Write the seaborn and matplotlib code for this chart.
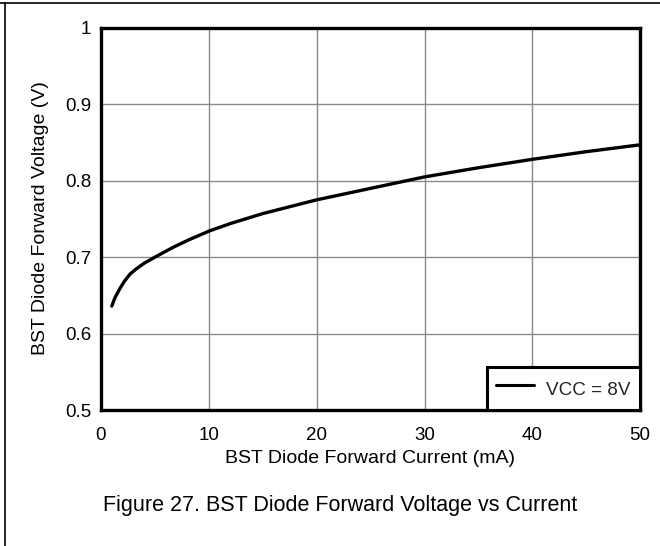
import matplotlib
matplotlib.use("Agg")
import matplotlib.pyplot as plt
import seaborn as sns
import pandas as pd
from matplotlib.lines import Line2D

# Data
current_ma = [1, 1.3, 1.75, 2.2, 2.7, 3.3, 4, 5, 6.7, 8.2, 10, 12, 15, 20, 25, 30, 35, 40, 45, 50]
forward_v = [0.636, 0.647, 0.659, 0.669, 0.678, 0.685, 0.692, 0.700, 0.713, 0.723,
             0.734, 0.744, 0.757, 0.775, 0.790, 0.805, 0.817, 0.828, 0.838, 0.847]
series_label = "VCC = 8V"
x_ticks = [0, 10, 20, 30, 40, 50]
y_ticks = [0.5, 0.6, 0.7, 0.8, 0.9, 1.0]
y_tick_labels = ["0.5", "0.6", "0.7", "0.8", "0.9", "1"]

df = pd.DataFrame({"I": current_ma, "V": forward_v, "s": series_label})

sns.set_theme(style="white")
plt.rcParams["font.family"] = ["Liberation Sans", "DejaVu Sans"]

fig = plt.figure(figsize=(6.6, 5.46), dpi=100)
ax = fig.add_axes([0.153, 0.249, 0.817, 0.700])

sns.lineplot(data=df, x="I", y="V", color="black", linewidth=2.4, ax=ax, legend=False)

ax.set_xlim(0, 50)
ax.set_ylim(0.5, 1.0)
ax.set_xticks(x_ticks)
ax.set_yticks(y_ticks)
ax.set_yticklabels(y_tick_labels)
ax.tick_params(axis="both", labelsize=13.5, length=0, colors="black")
ax.tick_params(axis="x", pad=12)
ax.tick_params(axis="y", pad=7)
ax.grid(True, color="#8a8a8a", linewidth=1.0)
for sp in ax.spines.values():
    sp.set_color("black")
    sp.set_linewidth(2.4)

ax.set_xlabel("BST Diode Forward Current (mA)", fontsize=14, color="black")
ax.xaxis.set_label_coords(0.499, -0.104)
ax.set_ylabel("BST Diode Forward Voltage (V)", fontsize=14, color="black")
ax.yaxis.set_label_coords(-0.097, 0.503)

handle = Line2D([], [], color="black", linewidth=2.2)
leg = ax.legend([handle], [series_label], loc="lower right", borderaxespad=0,
                fontsize=13.6, fancybox=False, handlelength=2.0, handleheight=1.6,
                borderpad=0.5, handletextpad=0.65)
leg.get_frame().set_edgecolor("black")
leg.get_frame().set_linewidth(2.2)
leg.get_frame().set_alpha(1)

fig.text(103/660, 1 - 511/546, "Figure 27. BST Diode Forward Voltage vs Current",
         fontsize=15.5, color="black", ha="left", va="baseline")

# page frame lines (top and left)
fig.add_artist(Line2D([0, 1], [1 - 3/546, 1 - 3/546], transform=fig.transFigure,
                      color="black", linewidth=1.2))
fig.add_artist(Line2D([5/660, 5/660], [0, 1 - 3/546], transform=fig.transFigure,
                      color="black", linewidth=1.2))

fig.savefig("out.png", dpi=100)
